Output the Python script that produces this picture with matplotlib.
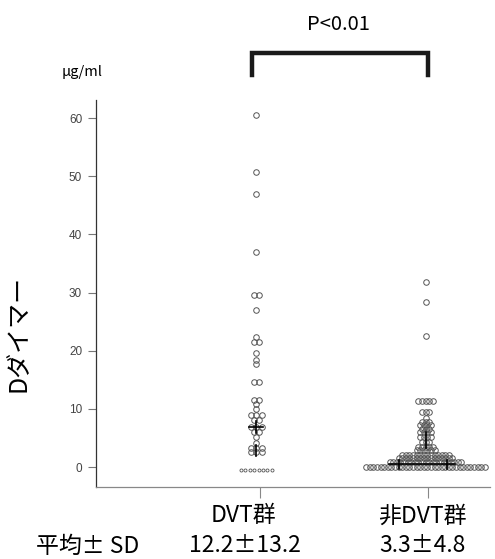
import matplotlib
matplotlib.use("Agg")
import matplotlib.pyplot as plt
import numpy as np

# ---- data ----
categories = ["DVT群", "非DVT群"]
stats_labels = ["12.2±13.2", "3.3±4.8"]
yticks = [0, 10, 20, 30, 40, 50, 60]

# DVT group: (value, number of points in that row)
dvt_values = [60.6, 50.7, 47.0, 36.9, 29.6, 27.0, 22.4, 21.5, 19.6, 18.4, 17.7,
              14.6, 11.5, 10.8, 9.9, 8.9, 8.1, 6.9, 6.1, 5.2, 4.1, 3.3, 2.6]
dvt_counts = [1, 1, 1, 1, 2, 1, 1, 2, 1, 1, 1,
              2, 2, 1, 1, 3, 2, 3, 2, 1, 1, 3, 3]
dvt_low_value = -0.6
dvt_low_count = 8

# non-DVT group
non_values = [31.8, 28.3, 22.6, 11.4, 9.5, 8.5, 7.8, 7.2, 6.6, 6.0, 5.2, 4.3,
              3.5, 2.9, 2.1, 1.5, 0.9, 0.05]
non_counts = [1, 1, 1, 5, 3, 1, 3, 4, 3, 4, 4, 3,
              5, 6, 14, 16, 21, 34]

fig = plt.figure(figsize=(4.95, 5.59), dpi=100)
ax = fig.add_axes([0.194, 0.1288, 0.796, 0.692])
ax.set_xlim(0.0238, 2.369)
ax.set_ylim(-3.44, 63.1)

edge = "#555555"

def row_points(center, values, counts, step):
    xs, ys = [], []
    for v, n in zip(values, counts):
        for i in range(n):
            xs.append(center + step * (i - (n - 1) / 2))
            ys.append(v)
    return xs, ys

x1, y1 = row_points(0.978, dvt_values, dvt_counts, 0.031)
ax.plot(x1, y1, ls="none", marker="o", ms=4.0, mfc="none", mec=edge, mew=0.7, clip_on=False)
xl, yl = row_points(0.978, [dvt_low_value], [dvt_low_count], 0.026)
ax.plot(xl, yl, ls="none", marker="o", ms=2.2, mfc="none", mec=edge, mew=0.6, clip_on=False)

x2, y2 = row_points(1.985, non_values, non_counts, 0.0214)
ax.plot(x2, y2, ls="none", marker="o", ms=4.0, mfc="none", mec=edge, mew=0.7, clip_on=False)

# summary marks
ax.plot([0.935, 1.02], [6.9, 6.9], color="black", lw=1.2)
ax.plot([0.978, 0.978], [5.9, 7.9], color="black", lw=1.2)
ax.plot([0.978, 0.978], [1.9, 3.8], color="black", lw=1.2)
ax.plot([1.77, 2.16], [0.45, 0.45], color="black", lw=1.2)
ax.plot([1.83, 1.83], [-0.3, 1.2], color="black", lw=1.2)
ax.plot([2.115, 2.115], [-0.3, 1.2], color="black", lw=1.2)
ax.plot([1.99, 1.99], [3.3, 6.0], color="black", lw=1.2)

# axes styling
for s in ["top", "right"]:
    ax.spines[s].set_visible(False)
ax.spines["left"].set_color("#333333")
ax.spines["left"].set_linewidth(0.9)
ax.spines["bottom"].set_color("#888888")
ax.spines["bottom"].set_linewidth(0.9)
ax.set_yticks(yticks)
ax.set_yticklabels([str(t) for t in yticks], fontsize=8.5, color="#444444",
                   family="Liberation Sans")
ax.tick_params(axis="y", length=6, width=0.8, color="#777777", pad=4)
ax.set_xticks([1, 2])
ax.set_xticklabels([])
ax.tick_params(axis="x", length=8, width=0.8, color="#888888")

jp = ["Noto Sans CJK JP", "DejaVu Sans"]

# bracket
ax.plot([0.952, 0.952, 2.0, 2.0], [67.4, 71.3, 71.3, 67.4], color="#1a1a1a",
        lw=3.2, solid_joinstyle="miter", clip_on=False)
fig.text(338 / 495, 1 - 25 / 559, "P<0.01", ha="center", va="center",
         fontsize=14.5, family=jp)
fig.text(82 / 495, 1 - 72 / 559, "μg/ml", ha="center", va="center",
         fontsize=10.5, family=jp)
fig.text(19 / 495, 1 - 333 / 559, "Dダイマー", ha="center", va="center",
         rotation=90, fontsize=18, family=jp)

fs = 16.5
fig.text(243 / 495, 1 - 516 / 559, categories[0], ha="center", va="center",
         fontsize=fs, family=jp)
fig.text(422 / 495, 1 - 516 / 559, categories[1], ha="center", va="center",
         fontsize=fs, family=jp)
fig.text(88 / 495, 1 - 546 / 559, "平均± SD", ha="center", va="center",
         fontsize=fs, family=jp)
fig.text(245 / 495, 1 - 546 / 559, stats_labels[0], ha="center", va="center",
         fontsize=fs, family=jp)
fig.text(422 / 495, 1 - 546 / 559, stats_labels[1], ha="center", va="center",
         fontsize=fs, family=jp)

fig.savefig("out.png", dpi=100)
